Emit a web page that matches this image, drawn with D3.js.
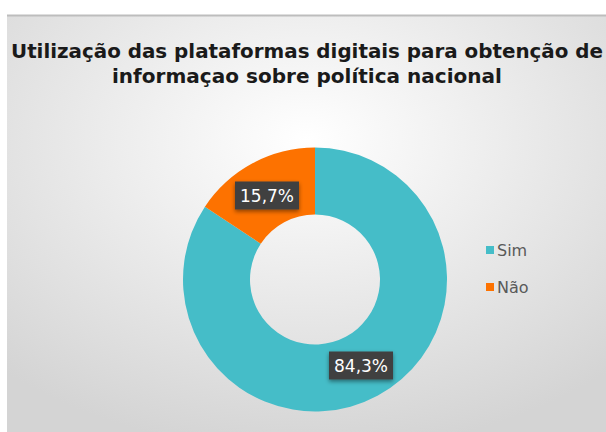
<!DOCTYPE html>
<html>
<head>
<meta charset="utf-8">
<script src="https://cdn.jsdelivr.net/npm/d3@7"></script>
<style>
  body { margin: 0; background: #fff; }
  svg { display: block; }
</style>
</head>
<body>
<div id="chart"></div>
<script>
// data
var categories = ["Sim", "Não"]
var values = [84.3, 15.7]
var colors = ["#45bdc8", "#fd7200"]
var titleLines = ["Utilização das plataformas digitais para obtenção de", "informaçao sobre política nacional"]

var width = 606, height = 432
var cx = 315, cy = 279.5, outerR = 132, innerR = 65
var titleWidths = [592, 390]

var svg = d3.select("#chart").append("svg")
    .attr("width", width)
    .attr("height", height)

var defs = svg.append("defs")
var grad = defs.append("radialGradient")
    .attr("id", "bg")
    .attr("cx", "50%").attr("cy", "30%").attr("r", "75%")
grad.append("stop").attr("offset", "0%").attr("stop-color", "#ffffff")
grad.append("stop").attr("offset", "100%").attr("stop-color", "#d4d4d4")

var shadow = defs.append("filter").attr("id", "shadow")
    .attr("x", "-20%").attr("y", "-20%").attr("width", "140%").attr("height", "150%")
shadow.append("feDropShadow")
    .attr("dx", 0).attr("dy", 2).attr("stdDeviation", 2)
    .attr("flood-color", "#000").attr("flood-opacity", 0.45)

// chart area
svg.append("rect")
    .attr("x", 7).attr("y", 15)
    .attr("width", width - 7).attr("height", height - 15)
    .attr("fill", "url(#bg)")
svg.append("line")
    .attr("x1", 7).attr("x2", width)
    .attr("y1", 15.5).attr("y2", 15.5)
    .attr("stroke", "#bdbdbd").attr("stroke-width", 2)

// title
svg.selectAll("text.title")
    .data(titleLines)
    .enter().append("text")
    .attr("class", "title")
    .attr("x", 307)
    .attr("y", function(d, i){ return 58 + i * 25 })
    .attr("text-anchor", "middle")
    .attr("textLength", function(d, i){ return titleWidths[i] })
    .attr("lengthAdjust", "spacingAndGlyphs")
    .style("font-family", "'DejaVu Sans', sans-serif")
    .style("font-weight", "bold")
    .style("font-size", "19px")
    .attr("fill", "#1a1a1a")
    .text(function(d){ return d })

// donut
var pie = d3.pie().sort(null).value(function(d){ return d })
var arc = d3.arc().innerRadius(innerR).outerRadius(outerR)
var g = svg.append("g").attr("transform", "translate(" + cx + "," + cy + ")")
var arcs = pie(values)

g.selectAll("path")
    .data(arcs)
    .enter().append("path")
    .attr("d", arc)
    .attr("fill", function(d, i){ return colors[i] })

// data labels
var labelOffsets = [[46, 86], [-48, -84]]
var fmt = function(v){ return d3.format(".1f")(v).replace(".", ",") + "%" }
var labels = g.selectAll("g.lbl")
    .data(arcs)
    .enter().append("g")
    .attr("class", "lbl")
    .attr("transform", function(d, i){ return "translate(" + labelOffsets[i][0] + "," + labelOffsets[i][1] + ")" })
labels.append("rect")
    .attr("x", -32).attr("y", -14)
    .attr("width", 64).attr("height", 28)
    .attr("fill", "#404040")
    .attr("filter", "url(#shadow)")
labels.append("text")
    .attr("text-anchor", "middle")
    .attr("dy", "0.36em")
    .style("font-family", "'DejaVu Sans', sans-serif")
    .style("font-size", "17px")
    .attr("fill", "#fff")
    .text(function(d){ return fmt(d.data) })

// legend
var legend = svg.append("g").attr("transform", "translate(486,250)")
var items = legend.selectAll("g")
    .data(categories)
    .enter().append("g")
    .attr("transform", function(d, i){ return "translate(0," + (i * 37) + ")" })
items.append("rect")
    .attr("x", 0).attr("y", -4)
    .attr("width", 8).attr("height", 8)
    .attr("fill", function(d, i){ return colors[i] })
items.append("text")
    .attr("x", 11)
    .attr("dy", "0.36em")
    .style("font-family", "'DejaVu Sans', sans-serif")
    .style("font-size", "16px")
    .attr("fill", "#595959")
    .text(function(d){ return d })
</script>
</body>
</html>
